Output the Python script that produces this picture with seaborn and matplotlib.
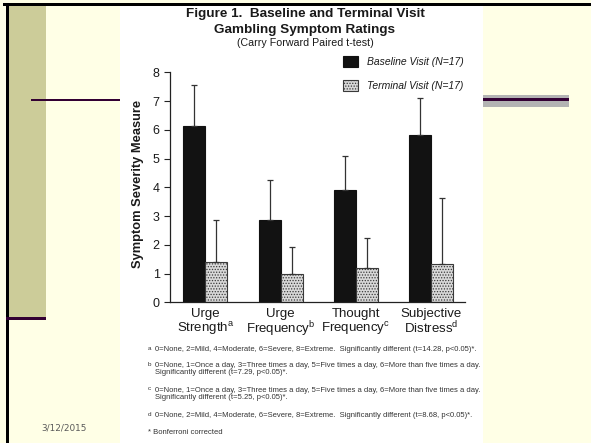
import matplotlib
matplotlib.use("Agg")
import matplotlib.pyplot as plt
from matplotlib.patches import Rectangle, Patch
import seaborn as sns
import pandas as pd

# ---- data ----
measures = ["Urge\nStrength$^{\\mathrm{a}}$", "Urge\nFrequency$^{\\mathrm{b}}$",
            "Thought\nFrequency$^{\\mathrm{c}}$", "Subjective\nDistress$^{\\mathrm{d}}$"]
visits = ["Baseline Visit (N=17)", "Terminal Visit (N=17)"]
baseline_mean = [6.14, 2.86, 3.91, 5.83]
baseline_sd = [1.42, 1.40, 1.17, 1.29]
terminal_mean = [1.41, 0.97, 1.21, 1.34]
terminal_sd = [1.45, 0.94, 1.02, 2.28]
y_ticks = [0, 1, 2, 3, 4, 5, 6, 7, 8]

footnotes = [
    ("a", "0=None, 2=Mild, 4=Moderate, 6=Severe, 8=Extreme.  Significantly different (t=14.28, p<0.05)*."),
    ("b", "0=None, 1=Once a day, 3=Three times a day, 5=Five times a day, 6=More than five times a day.\n"
          "Significantly different (t=7.29, p<0.05)*."),
    ("c", "0=None, 1=Once a day, 3=Three times a day, 5=Five times a day, 6=More than five times a day.\n"
          "Significantly different (t=5.25, p<0.05)*."),
    ("d", "0=None, 2=Mild, 4=Moderate, 6=Severe, 8=Extreme.  Significantly different (t=8.68, p<0.05)*."),
]

plt.rcParams["font.family"] = ["Liberation Sans", "DejaVu Sans"]
plt.rcParams["mathtext.fontset"] = "custom"
plt.rcParams["mathtext.rm"] = "Liberation Sans"
plt.rcParams["mathtext.it"] = "Liberation Sans:italic"
plt.rcParams["mathtext.bf"] = "Liberation Sans:bold"
plt.rcParams["hatch.linewidth"] = 0.6

W, H = 591, 443
def fx(x): return x / W
def fy(y): return 1 - y / H

fig = plt.figure(figsize=(5.91, 4.43), dpi=100, facecolor="#FFFFE6")

# ---- slide decoration ----
def rect(x0, y0, x1, y1, color, z=1):
    fig.add_artist(Rectangle((fx(x0), fy(y1)), fx(x1) - fx(x0), fy(y0) - fy(y1),
                             transform=fig.transFigure, facecolor=color,
                             edgecolor="none", zorder=z))

rect(120, 6, 483, 443, "white", z=-1)        # scanned page
rect(9, 6, 46, 318, "#CCCC99")               # olive strip
rect(3, 3, 591, 6, "black")                  # top border
rect(6, 3, 9, 443, "black")                  # left border
rect(31, 98.5, 120, 100.8, "#330033")        # left purple line
rect(6, 316.5, 46, 320, "#330033")           # lower-left purple line
rect(483, 95, 569, 106.7, "#B3B3B3")         # right gray bar
rect(483, 98.3, 569, 100.8, "#330033")       # purple line inside
fig.text(fx(64.5), fy(428), "3/12/2015", fontsize=6.4, color="#595959",
         family="DejaVu Sans", ha="center", va="center")

# ---- chart ----
ax = fig.add_axes([fx(170), fy(302.3), fx(465) - fx(170), fy(72.3) - fy(302.3)])
ax.set_facecolor("white")

df = pd.DataFrame({
    "measure": measures * 2,
    "visit": [visits[0]] * 4 + [visits[1]] * 4,
    "value": baseline_mean + terminal_mean,
})
sns.barplot(data=df, x="measure", y="value", hue="visit", order=measures,
            hue_order=visits, palette=["#121212", "#D8D8D8"], width=0.585,
            errorbar=None, edgecolor="#111111", linewidth=0.8, ax=ax,
            legend=False, gap=0)

sds = baseline_sd + terminal_sd
bars = [p for p in ax.patches]
for i, p in enumerate(bars):
    if i >= 4:
        p.set_hatch("......")
        p.set_edgecolor("#3a3a3a")
    xc = p.get_x() + p.get_width() / 2
    ax.errorbar(xc, p.get_height(), yerr=[[0], [sds[i]]], fmt="none",
                ecolor="#333333", elinewidth=0.9, capsize=2.5, capthick=0.9,
                zorder=1)

ax.set_xlim(-0.47, 3.45)
ax.set_ylim(0, 8)
ax.set_yticks(y_ticks)
ax.set_xlabel("")
ax.set_ylabel("")
for s in ["top", "right"]:
    ax.spines[s].set_visible(False)
for s in ["left", "bottom"]:
    ax.spines[s].set_color("#222222")
    ax.spines[s].set_linewidth(0.9)
ax.tick_params(axis="y", labelsize=9, length=4.5, width=0.8, pad=3,
               color="#222222", labelcolor="#1a1a1a")
ax.tick_params(axis="x", labelsize=9.5, length=0, pad=4, labelcolor="#1a1a1a")
for t in ax.get_xticklabels():
    t.set_linespacing(1.0)

fig.text(fx(137.5), fy(184), "Symptom Severity Measure", rotation=90,
         fontsize=9.3, fontweight="bold", ha="center", va="center", color="#1a1a1a")

# legend
handles = [Patch(facecolor="#121212", edgecolor="#111111", linewidth=0.8),
           Patch(facecolor="#D8D8D8", edgecolor="#3a3a3a", hatch="......", linewidth=0.8)]
ax.legend(handles, visits, loc="upper left", bbox_to_anchor=(fx(342.7), fy(56)),
          bbox_transform=fig.transFigure, frameon=False, borderpad=0,
          borderaxespad=0, handlelength=1.45, handleheight=1.2,
          handletextpad=0.85, labelspacing=1.25,
          prop={"size": 7.5, "style": "italic", "family": "Liberation Sans"},
          labelcolor="#1a1a1a")

# titles
fig.text(fx(305), fy(14), "Figure 1.  Baseline and Terminal Visit", fontsize=9.7,
         fontweight="bold", ha="center", va="center", color="#1a1a1a")
fig.text(fx(305), fy(30), "Gambling Symptom Ratings", fontsize=9.7,
         fontweight="bold", ha="center", va="center", color="#1a1a1a")
fig.text(fx(305), fy(42.5), "(Carry Forward Paired t-test)", fontsize=7.7,
         ha="center", va="center", color="#1a1a1a")

# footnotes
fn_y = [350, 366, 390.5, 416]
for (letter, txt), y in zip(footnotes, fn_y):
    fig.text(fx(149.3), fy(y - 2), letter, fontsize=4.6, ha="center",
             va="center", color="#333333")
    fig.text(fx(155), fy(y - 4), txt, fontsize=5.5, ha="left", va="top",
             color="#333333", linespacing=1.1)
fig.text(fx(148), fy(432.7), "* Bonferroni corrected", fontsize=5.5, ha="left",
         va="center", color="#333333")

fig.savefig("out.png", dpi=100, facecolor=fig.get_facecolor())
